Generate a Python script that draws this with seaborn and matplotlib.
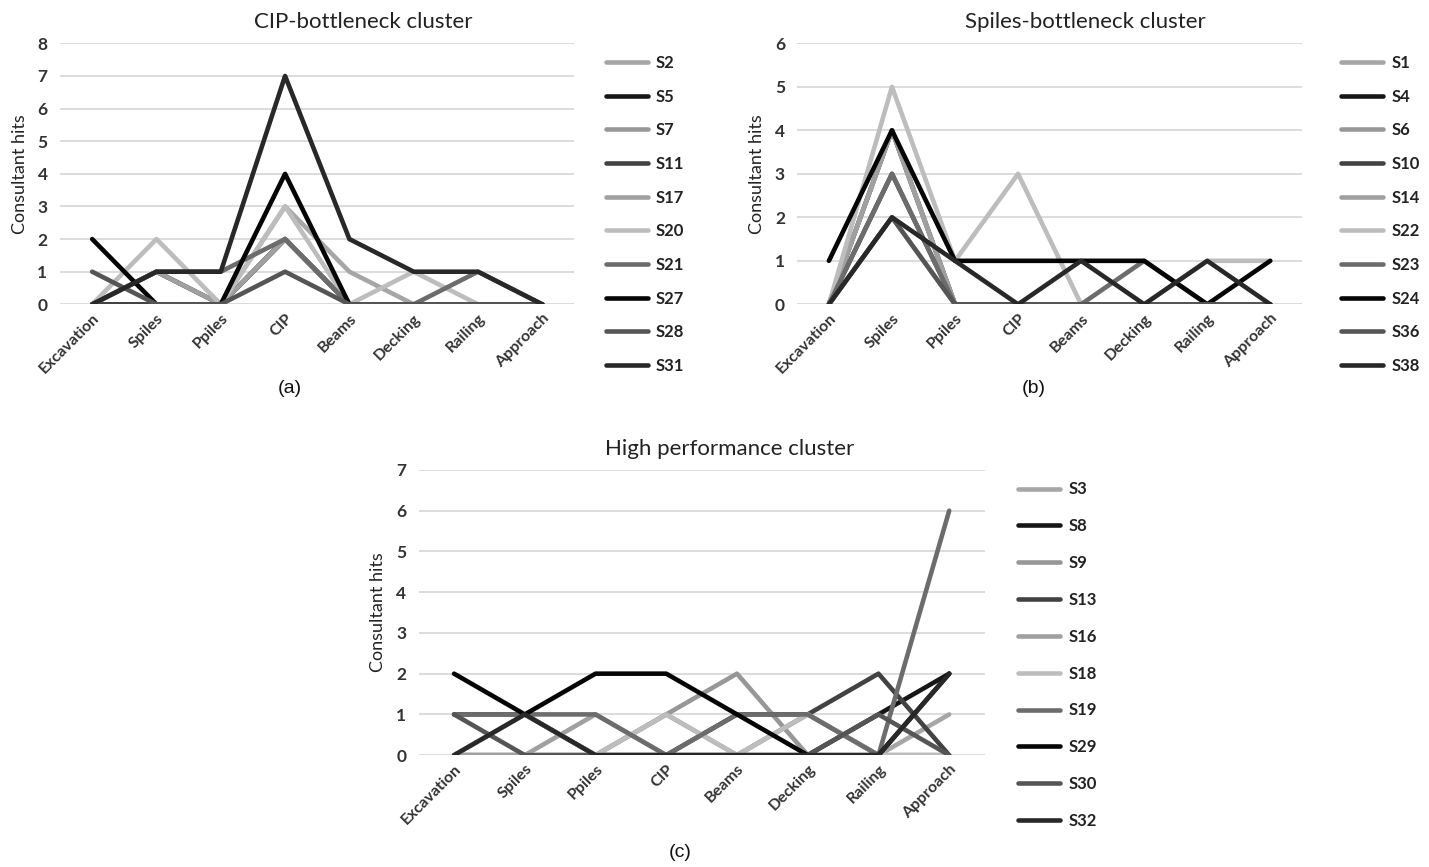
import pandas as pd
import matplotlib.pyplot as plt
import seaborn as sns
from matplotlib.lines import Line2D

# Construction stages on the x axis
stages = ["Excavation", "Spiles", "Ppiles", "CIP", "Beams", "Decking", "Railing", "Approach"]

# (a) CIP-bottleneck cluster
a_sites = ["S2", "S5", "S7", "S11", "S17", "S20", "S21", "S27", "S28", "S31"]
a_hits = [
    [0, 0, 0, 3, 1, 0, 0, 0],
    [0, 1, 0, 2, 0, 0, 0, 0],
    [0, 0, 0, 2, 0, 0, 0, 0],
    [0, 0, 0, 2, 0, 0, 0, 0],
    [0, 1, 0, 2, 0, 0, 0, 0],
    [0, 2, 0, 3, 0, 1, 0, 0],
    [0, 1, 1, 2, 0, 0, 1, 0],
    [2, 0, 0, 4, 0, 0, 0, 0],
    [1, 0, 0, 1, 0, 0, 0, 0],
    [0, 1, 1, 7, 2, 1, 1, 0],
]

# (b) Spiles-bottleneck cluster
b_sites = ["S1", "S4", "S6", "S10", "S14", "S22", "S23", "S24", "S36", "S38"]
b_hits = [
    [0, 2, 0, 0, 0, 0, 0, 0],
    [0, 4, 0, 0, 0, 0, 0, 0],
    [0, 4, 0, 0, 0, 0, 0, 0],
    [0, 3, 0, 0, 0, 0, 0, 0],
    [0, 4, 0, 0, 0, 0, 0, 0],
    [0, 5, 1, 3, 0, 0, 1, 1],
    [0, 3, 0, 0, 0, 1, 0, 0],
    [1, 4, 1, 1, 1, 1, 0, 1],
    [0, 2, 0, 0, 0, 0, 0, 0],
    [0, 2, 1, 0, 1, 0, 1, 0],
]

# (c) High performance cluster
c_sites = ["S3", "S8", "S9", "S13", "S16", "S18", "S19", "S29", "S30", "S32"]
c_hits = [
    [0, 1, 0, 1, 0, 1, 0, 1],
    [0, 0, 0, 0, 0, 0, 1, 2],
    [0, 0, 0, 1, 2, 0, 0, 0],
    [1, 1, 0, 0, 1, 1, 2, 0],
    [0, 0, 1, 0, 0, 1, 0, 0],
    [0, 1, 0, 1, 0, 1, 0, 0],
    [1, 1, 1, 0, 1, 1, 0, 6],
    [2, 1, 2, 2, 1, 0, 0, 2],
    [1, 0, 0, 0, 0, 0, 1, 0],
    [0, 1, 0, 0, 0, 0, 0, 2],
]

# grey shades, same order in every panel
greys = ["#a6a6a6", "#161616", "#979797", "#424242", "#a0a0a0",
         "#bdbdbd", "#6c6c6c", "#050505", "#555555", "#282828"]

sns.set_style("white")
plt.rcParams["font.family"] = ["Lato", "DejaVu Sans"]


def long_table(sites, hits):
    rows = []
    for s, vals in zip(sites, hits):
        for i, v in enumerate(vals):
            rows.append({"site": s, "pos": i, "hits": v})
    return pd.DataFrame(rows)


def draw_panel(fig, rect, sites, hits, ymax, title, title_x, caption, cap_xy,
               leg_xy, leg_gap):
    ax = fig.add_axes(rect)
    df = long_table(sites, hits)
    pal = dict(zip(sites, greys))
    sns.lineplot(data=df, x="pos", y="hits", hue="site", hue_order=sites,
                 palette=pal, sort=False, linewidth=3.3, legend=False, ax=ax)
    ax.set_xlim(-0.5, len(stages) - 0.5)
    ax.set_ylim(0, ymax)
    ax.set_yticks(range(ymax + 1))
    ax.set_xticks(range(len(stages)))
    ax.set_xticklabels(stages, rotation=45, ha="right", rotation_mode="anchor",
                       fontsize=11.5, fontweight="bold", color="#333333")
    ax.tick_params(axis="y", labelsize=12.5, labelcolor="#333333", length=0, pad=9)
    ax.tick_params(axis="x", length=0, pad=5)
    for t in ax.get_yticklabels():
        t.set_fontweight("bold")
    ax.grid(axis="y", color="#d9d9d9", linewidth=1.3)
    ax.set_axisbelow(True)
    sns.despine(ax=ax, left=True, bottom=True)
    ax.set_xlabel("")
    ax.set_ylabel("Consultant hits", fontsize=13, color="#222222", labelpad=7)
    ax.set_title(title, fontsize=16, color="#222222", x=title_x, pad=11)
    fig.text(cap_xy[0], cap_xy[1], caption, ha="center", va="center",
             fontsize=14, family="Liberation Sans", color="#111111")
    handles = [Line2D([], [], color=pal[s], linewidth=3.3, solid_capstyle="round")
               for s in sites]
    fig.legend(handles, sites, loc="upper left", bbox_to_anchor=leg_xy,
               frameon=False, handlelength=2.5, handletextpad=0.5,
               labelspacing=leg_gap, prop={"size": 12, "weight": "bold"},
               labelcolor="#222222")
    return ax


fig = plt.figure(figsize=(14.29, 8.67), dpi=100)

draw_panel(fig, [0.042, 0.649, 0.360, 0.301], a_sites, a_hits, 8,
           "CIP-bottleneck cluster", 0.59, "(a)", (0.203, 0.552),
           (0.4136, 0.954), 1.06)
draw_panel(fig, [0.558, 0.649, 0.353, 0.301], b_sites, b_hits, 6,
           "Spiles-bottleneck cluster", 0.57, "(b)", (0.7235, 0.552),
           (0.928, 0.954), 1.06)
draw_panel(fig, [0.293, 0.129, 0.396, 0.329], c_sites, c_hits, 7,
           "High performance cluster", 0.55, "(c)", (0.476, 0.017),
           (0.702, 0.462), 1.25)

fig.savefig("out.png", dpi=100, facecolor="white")
